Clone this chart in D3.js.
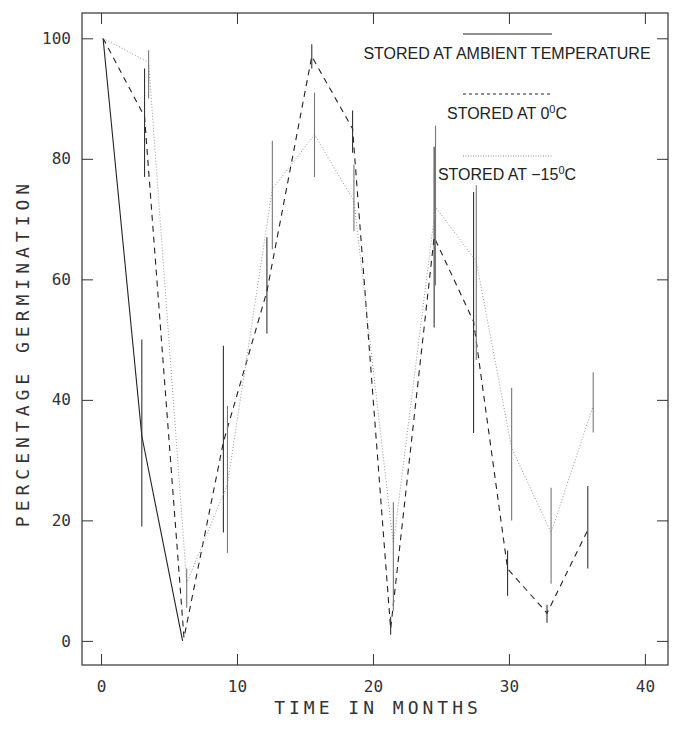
<!DOCTYPE html>
<html>
<head>
<meta charset="utf-8">
<script src="https://cdn.jsdelivr.net/npm/d3@7"></script>
<style>
  body { margin: 0; background: #fff; }
  svg { display: block; }
</style>
</head>
<body>
<div id="chart"></div>
<script>
// Germination vs storage time, three storage conditions

const xTicks = [0, 10, 20, 30, 40];
const yTicks = [0, 20, 40, 60, 80, 100];

// stored at ambient temperature (solid)
const ambMonths = [0.15, 3.0, 6.0];
const ambValues = [100, 34, 0];
const ambLow    = [null, 19, null];
const ambHigh   = [null, 50, null];

// stored at 0°C (dashed)
const zeroMonths = [0.15, 3.2, 6.1, 9.0, 12.2, 15.5, 18.5, 21.3, 24.5, 27.4, 29.9, 32.8, 35.8];
const zeroValues = [100, 87, 0.5, 33, 58, 97, 85, 2, 67, 53, 12, 4.6, 18.4];
const zeroLow    = [null, 77, null, 18, 51, 95, 81, 1, 52, 34.5, 7.5, 3, 12];
const zeroHigh   = [null, 95, null, 49, 67, 99, 88, 4, 82, 74.5, 15, 6, 25.7];

// stored at -15°C (dotted)
const minusMonths = [0.15, 3.5, 6.3, 9.3, 12.6, 15.7, 18.6, 21.5, 24.6, 27.6, 30.2, 33.1, 36.2];
const minusValues = [100, 96, 9.6, 26, 75, 84, 73, 16, 72, 63, 32, 18, 39];
const minusLow    = [null, 90, 5.5, 14.6, 65, 77, 68, 5, 59, 46.6, 20, 9.5, 34.6];
const minusHigh   = [null, 98, 12, 39, 83, 91, 79, 23, 85.5, 75.6, 42, 25.4, 44.6];

function rows(ms, vs, lo, hi){
  return ms.map((m, i) => ({ m, v: vs[i], lo: lo[i], hi: hi[i] }));
}

const series = [
  { data: rows(ambMonths, ambValues, ambLow, ambHigh),   dash: null,  stroke: "#222", w: 1.1, bar: "#333" },
  { data: rows(zeroMonths, zeroValues, zeroLow, zeroHigh), dash: "6,5", stroke: "#222", w: 1.1, bar: "#333" },
  { data: rows(minusMonths, minusValues, minusLow, minusHigh), dash: "1,2", stroke: "#999", w: 1, bar: "#777" }
];

const W = 674, H = 740;
const frame = { left: 82, right: 668, top: 13, bottom: 665 };

const svg = d3.select("#chart").append("svg")
  .attr("width", W).attr("height", H);

const x = d3.scaleLinear().domain([-1.4, 41.7]).range([frame.left, frame.right]);
const y = d3.scaleLinear().domain([-4, 104.2]).range([frame.bottom, frame.top]);

// cadre
svg.append("rect")
  .attr("x", frame.left).attr("y", frame.top)
  .attr("width", frame.right - frame.left).attr("height", frame.bottom - frame.top)
  .attr("fill", "none").attr("stroke", "#333").attr("stroke-width", 1.2);

const tickLen = 11;
const tickFont = "'DejaVu Sans Mono', monospace";

// axes: ticks inside on all four sides
svg.append("g")
  .attr("transform", `translate(0,${frame.bottom})`)
  .call(d3.axisBottom(x).tickValues(xTicks).tickSizeInner(-tickLen).tickSizeOuter(0).tickPadding(16))
  .call(g => g.select(".domain").remove())
  .call(g => g.selectAll("line").attr("stroke", "#333"))
  .selectAll("text")
  .style("font-family", tickFont).style("font-size", "16px").style("fill", "#333");

svg.append("g")
  .attr("transform", `translate(${frame.left},0)`)
  .call(d3.axisLeft(y).tickValues(yTicks).tickSizeInner(-tickLen).tickSizeOuter(0).tickPadding(11))
  .call(g => g.select(".domain").remove())
  .call(g => g.selectAll("line").attr("stroke", "#333"))
  .selectAll("text")
  .style("font-family", tickFont).style("font-size", "16px").style("fill", "#333");

svg.append("g")
  .attr("transform", `translate(0,${frame.top})`)
  .call(d3.axisTop(x).tickValues(xTicks).tickSizeInner(-tickLen).tickSizeOuter(0).tickFormat(""))
  .call(g => g.select(".domain").remove())
  .call(g => g.selectAll("line").attr("stroke", "#333"));

svg.append("g")
  .attr("transform", `translate(${frame.right},0)`)
  .call(d3.axisRight(y).tickValues(yTicks).tickSizeInner(-tickLen).tickSizeOuter(0).tickFormat(""))
  .call(g => g.select(".domain").remove())
  .call(g => g.selectAll("line").attr("stroke", "#333"));

// lignes
const line = d3.line().x(d => x(d.m)).y(d => y(d.v));

series.forEach(s => {
  svg.append("path")
    .datum(s.data)
    .attr("fill", "none")
    .attr("stroke", s.stroke)
    .attr("stroke-width", s.w)
    .attr("stroke-dasharray", s.dash)
    .attr("d", line);

  svg.selectAll(null)
    .data(s.data.filter(d => d.lo != null))
    .enter().append("line")
    .attr("x1", d => x(d.m)).attr("x2", d => x(d.m))
    .attr("y1", d => y(d.lo)).attr("y2", d => y(d.hi))
    .attr("stroke", s.bar)
    .attr("stroke-width", 1.1);
});

// légende
const legend = [
  { y: 34, dash: null,  stroke: "#222", text: [["STORED AT AMBIENT TEMPERATURE"]] , ty: 59 },
  { y: 94, dash: "3,3", stroke: "#222", text: [["STORED AT 0"], ["0", true], ["C"]], ty: 119 },
  { y: 156, dash: "1,1.5", stroke: "#888", text: [["STORED AT \u221215"], ["0", true], ["C"]], ty: 180 }
];

legend.forEach(l => {
  svg.append("line")
    .attr("x1", 463).attr("x2", 552)
    .attr("y1", l.y).attr("y2", l.y)
    .attr("stroke", l.stroke).attr("stroke-width", 1.1)
    .attr("stroke-dasharray", l.dash);

  const t = svg.append("text")
    .attr("x", 507).attr("y", l.ty)
    .attr("text-anchor", "middle")
    .style("font-family", "'Liberation Sans', Arial, sans-serif")
    .style("font-size", "16px")
    .style("fill", "#222");
  l.text.forEach(([str, sup]) => {
    const sp = t.append("tspan").text(str);
    if (sup) sp.attr("dy", -6).style("font-size", "11px");
    else if (t.selectAll("tspan").size() > 1) sp.attr("dy", 6);
  });
});

// titres des axes
svg.append("text")
  .attr("x", 378).attr("y", 714)
  .attr("text-anchor", "middle")
  .style("font-family", tickFont)
  .style("font-size", "18px")
  .style("letter-spacing", "4px")
  .style("fill", "#333")
  .text("TIME IN MONTHS");

svg.append("text")
  .attr("transform", `translate(29,${(frame.top + frame.bottom) / 2 + 14}) rotate(-90)`)
  .attr("text-anchor", "middle")
  .style("font-family", tickFont)
  .style("font-size", "18px")
  .style("letter-spacing", "5px")
  .style("fill", "#333")
  .text("PERCENTAGE GERMINATION");
</script>
</body>
</html>
